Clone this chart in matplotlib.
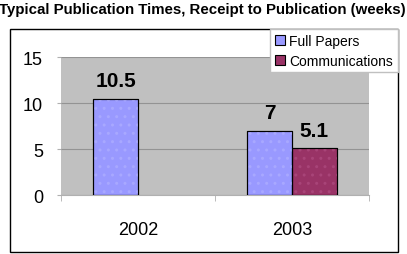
import numpy as np
import matplotlib.pyplot as plt
from matplotlib.patches import Rectangle

plt.rcParams['font.family'] = ['Liberation Sans', 'DejaVu Sans']

years = ['2002', '2003']
full_papers = [10.5, 7]
communications = [np.nan, 5.1]
series = ['Full Papers', 'Communications']
colors = ['#9999FF', '#993366']
dots = ['#A8A8FF', '#A84478']

fig = plt.figure(figsize=(4.07, 2.55), dpi=100)
fig.patch.set_facecolor('white')

# outer chart border
fig.patches.append(Rectangle((0.025, 0.008), 0.953, 0.874, transform=fig.transFigure,
                             fill=False, edgecolor='black', linewidth=1.0))

fig.text(0.497, 0.99, 'Typical Publication Times, Receipt to Publication (weeks)',
         ha='center', va='top', fontsize=10.8, fontweight='bold')

ax = fig.add_axes([0.150, 0.231, 0.757, 0.541])
ax.set_facecolor('#C0C0C0')

x = np.arange(len(years))
w = 0.29
bars = []
for k, (vals, c, d) in enumerate(zip([full_papers, communications], colors, dots)):
    pos = x + (k - 0.5) * w
    b = ax.bar(pos, vals, w, color=c, edgecolor='black', linewidth=0.8,
               label=series[k], zorder=3)
    # faint stipple, then redraw the outline on top
    ax.bar(pos, vals, w, fill=False, hatch='..', edgecolor=d, linewidth=0, zorder=3.5)
    ax.bar(pos, vals, w, fill=False, edgecolor='black', linewidth=0.8, zorder=4)
    bars.append(b)
    for p, v in zip(pos, vals):
        if not np.isnan(v):
            ax.text(p, v + 0.9, ('%g' % v), ha='center', va='bottom',
                    fontsize=15, fontweight='bold', zorder=5)

ax.set_xlim(-0.5, 1.5)
ax.set_ylim(0, 15)
ax.set_yticks([0, 5, 10, 15])
ax.yaxis.grid(True, color='#939393', linewidth=0.8, zorder=1)
ax.set_axisbelow(True)
ax.set_xticks(x)
ax.set_xticklabels(years)
ax.set_xticks([-0.5, 0.5, 1.5], minor=True)
ax.tick_params(axis='x', which='major', length=0, pad=19, labelsize=13)
ax.tick_params(axis='x', which='minor', length=4, color='#B0B0B0')
ax.tick_params(axis='y', length=3, color='#B0B0B0', labelsize=13, pad=10)
for s in ['top', 'right', 'left']:
    ax.spines[s].set_visible(False)
ax.spines['bottom'].set_color('#B0B0B0')

fig.legend(handles=bars, labels=series, loc='upper right',
           bbox_to_anchor=(0.977, 0.882), fontsize=10, frameon=True,
           fancybox=False, edgecolor='#C0C0C0', framealpha=1,
           handlelength=0.7, handleheight=0.7, handletextpad=0.3,
           borderpad=0.35, labelspacing=0.4, borderaxespad=0)

fig.savefig('out.png', dpi=100)
